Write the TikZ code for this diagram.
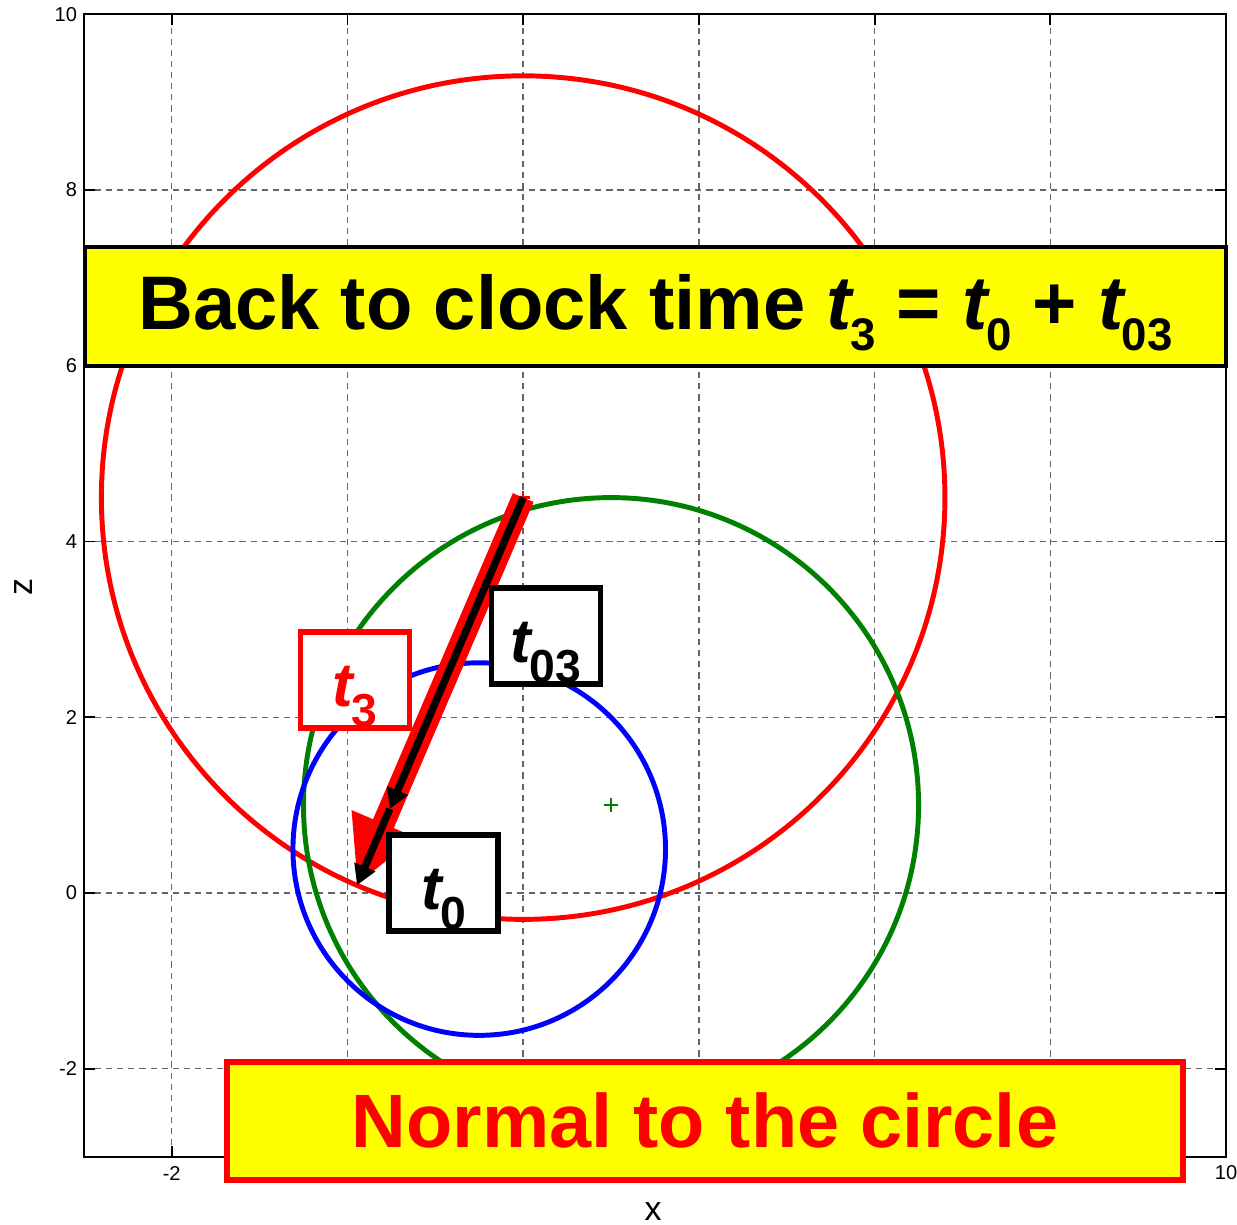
\documentclass[tikz,border=0pt]{standalone}
\usepackage{fontspec}
\setmainfont{Liberation Sans}
\usetikzlibrary{arrows.meta}
\usepackage{xcolor}
\definecolor{PlotRed}{HTML}{FF0000}
\definecolor{PlotGreen}{HTML}{008000}
\definecolor{PlotBlue}{HTML}{0000FF}
\definecolor{LabelYellow}{HTML}{FFFF00}
\tikzset{
    % Axes and grid
    gridline/.style={
        black!60,
        line width=0.45pt,
        dash pattern=on 2pt off 1.6pt
    },
    axisframe/.style={
        black,
        line width=0.6pt
    },
    ticklabel/.style={
        font=\fontsize{6.5}{7}\selectfont,
        inner sep=0pt
    },
    axislabel/.style={
        font=\fontsize{11}{12}\selectfont,
        inner sep=0pt
    },
    % Curves
    curve/.style={
        line width=1.6pt
    },
    centermark/.style={
        line width=0.8pt
    },
    % Label boxes - sharp corners
    titlebox/.style={
        rectangle,
        draw=black,
        fill=LabelYellow,
        line width=1.3pt,
        inner sep=0pt,
        minimum width=369.5pt,
        text height=26.9pt,
        text depth=11.7pt,
        font=\fontsize{24.6}{28}\selectfont\bfseries
    },
    notebox/.style={
        rectangle,
        draw=PlotRed,
        fill=LabelYellow,
        text=PlotRed,
        line width=1.9pt,
        inner sep=0pt,
        minimum width=309.6pt,
        text height=27.8pt,
        text depth=10.4pt,
        font=\fontsize{24.5}{28}\selectfont\bfseries
    },
    timebox/.style={
        rectangle,
        draw=black,
        fill=white,
        line width=1.7pt,
        inner sep=0pt,
        minimum width=35.3pt,
        text height=24pt,
        text depth=7.1pt,
        font=\bfseries
    },
    % Arrow styles - straight lines only
    normalarrow/.style={
        -{Triangle[length=21.7pt, width=20.7pt]},
        draw=PlotRed,
        line width=7.3pt
    },
    steparrow/.style={
        -{Triangle[length=6.5pt, width=7pt]},
        draw=black,
        line width=2.4pt
    }
}
% italic t with a lowered subscript: size, subscript size, subscript
\newcommand{\tsub}[3]{{\fontsize{#1}{#1}\selectfont\itshape t}\kern-0.5pt\raisebox{-6.5pt}{\fontsize{#2}{#2}\selectfont #3}}

\begin{document}
\begin{tikzpicture}[x=1cm, y=1cm]
    \useasboundingbox (-3.954,-3.778) rectangle (10.124,10.163);

    % Grid
    \foreach \g in {-2,0,...,8} {
        \draw[gridline] (\g,-3) -- (\g,10);
        \draw[gridline] (-3,\g) -- (10,\g);
    }

    % Frame and ticks
    \draw[axisframe] (-3,-3) rectangle (10,10);
    \foreach \g in {-2,0,...,10} {
        \draw[axisframe] (\g,-3) -- ++(0,0.125);
        \draw[axisframe] (\g,10) -- ++(0,-0.125);
        \draw[axisframe] (-3,\g) -- ++(0.125,0);
        \draw[axisframe] (10,\g) -- ++(-0.125,0);
    }
    \foreach \g [count=\i] in {-2,0,...,10} {
        \node[ticklabel, anchor=east] (zt\i) at (-3.07,\g) {\g};
    }
    \node[ticklabel] (xtl) at (-2,-3.187) {-2};
    \node[ticklabel] (xtr) at (10,-3.187) {10};
    \node[axislabel] (xlab) at (3.48,-3.62) {x};
    \node[axislabel, rotate=90] (zlab) at (-3.69,3.48) {z};

    % Circles
    \draw[curve, PlotRed] (2,4.5) circle (4.8);
    \draw[curve, PlotGreen] (3,1) circle (3.5);
    \draw[curve, PlotBlue] (1.5,0.5) circle (2.12);
    \draw[centermark, PlotGreen] (2.92,1) -- (3.08,1) (3,0.92) -- (3,1.08);
    \draw[centermark, PlotRed] (1.92,4.5) -- (2.08,4.5) (2,4.42) -- (2,4.58);

    % Normal from the centre
    \coordinate (ctr) at (2,4.5);
    \coordinate (mid) at (0.481,0.956);
    \coordinate (foot) at (0.109,0.088);
    \draw[normalarrow] (ctr) -- (foot);
    \draw[steparrow] (ctr) -- (mid);
    \draw[steparrow] (mid) -- (foot);

    % Time labels
    \node[timebox] (t03) at (2.260,2.925) {\tsub{20}{15}{03}};
    \node[timebox, draw=PlotRed, text=PlotRed] (t3) at (0.086,2.424) {\tsub{20}{15}{3}};
    \node[timebox] (t0) at (1.094,0.114) {\tsub{20}{15}{0}};

    % Banners
    \node[titlebox] (title) at (3.506,6.675) {Back to clock time \tsub{24.6}{14.8}{3} = \tsub{24.6}{14.8}{0} + \tsub{24.6}{14.8}{03}};
    \node[notebox] (note) at (4.069,-2.595) {Normal to the circle};
\end{tikzpicture}
\end{document}
